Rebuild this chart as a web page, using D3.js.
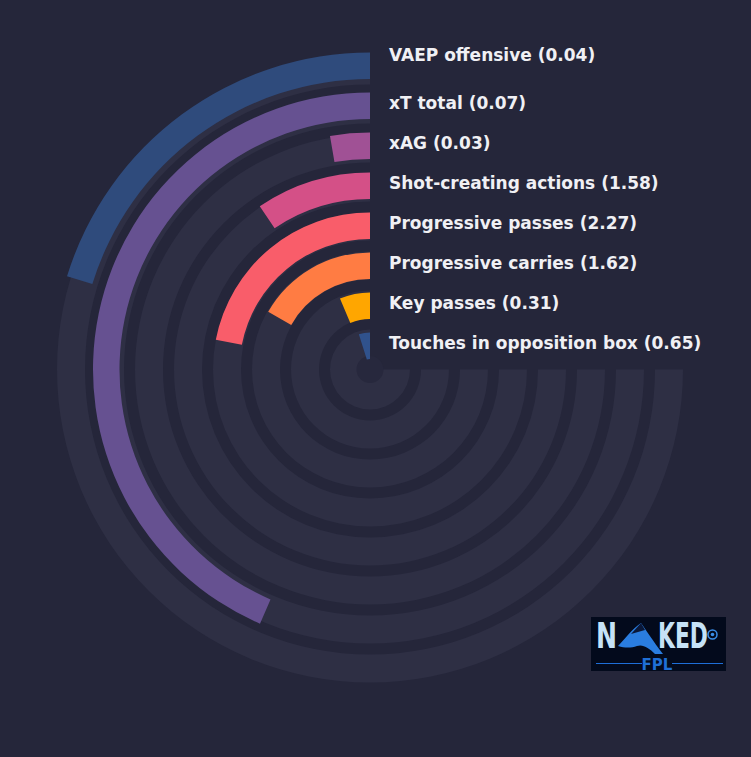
<!DOCTYPE html>
<html lang="en">
<head>
  <meta charset="UTF-8">
  <title>Radial bars</title>
  <script src="https://d3js.org/d3.v7.min.js"></script>
  <style>
    body { margin: 0; background: #25263a; }
    text { font-family: "DejaVu Sans", sans-serif; }
  </style>
</head>
<body>
  <div id="chart"></div>

  <script>

    // metrics, outer ring first
    const metrics = ['VAEP offensive', 'xT total', 'xAG', 'Shot-creating actions',
      'Progressive passes', 'Progressive carries', 'Key passes', 'Touches in opposition box'];
    const per90 = ['0.04', '0.07', '0.03', '1.58', '2.27', '1.62', '0.31', '0.65'];
    // percentile rank (bar length, 100 = three quarters of a circle)
    const percentiles = [27, 58, 3.6, 12.6, 29.3, 22.4, 8.5, 6.5];
    const colors = ['#2f4b7c', '#665191', '#a05195', '#d45087', '#f95d6a', '#ff7c43', '#ffa600', '#30528c'];

    const width = 751, height = 757;
    const cx = 370, cy = 369.5;

    const svg = d3.select('#chart').append('svg')
      .attr('width', width)
      .attr('height', height);

    svg.append('rect')
      .attr('width', width)
      .attr('height', height)
      .attr('fill', '#25263a');

    const g = svg.append('g')
      .attr('transform', `translate(${cx},${cy})`);

    const n = metrics.length;

    // ring index 0 = innermost
    const ring = i => n - 1 - i;
    const barR = d3.scaleLinear().domain([0, n - 1]).range([10.5, 290.5]);
    const trackR = d3.scaleLinear().domain([0, n - 1]).range([12, 285]);
    const barW = 26.5, trackW = 28;

    const angle = d3.scaleLinear().domain([0, 100]).range([0, -1.5 * Math.PI]);

    const arc = d3.arc();

    // background tracks
    g.selectAll('.track')
      .data(metrics)
      .enter()
      .append('path')
      .attr('class', 'track')
      .attr('d', (d, i) => arc({
        innerRadius: trackR(ring(i)),
        outerRadius: trackR(ring(i)) + trackW,
        startAngle: angle(0),
        endAngle: angle(100)
      }))
      .attr('fill', '#2e2f44');

    g.append('circle')
      .attr('r', 13.5)
      .attr('fill', '#27283d');

    // bars
    g.selectAll('.bar')
      .data(percentiles)
      .enter()
      .append('path')
      .attr('class', 'bar')
      .attr('d', (d, i) => arc({
        innerRadius: barR(ring(i)),
        outerRadius: barR(ring(i)) + barW,
        startAngle: angle(0),
        endAngle: angle(d)
      }))
      .attr('fill', (d, i) => colors[i]);

    // labels
    g.selectAll('.label')
      .data(metrics)
      .enter()
      .append('text')
      .attr('class', 'label')
      .attr('x', 19)
      .attr('y', (d, i) => -(barR(ring(i)) + barW / 2) + 3 - (i === 0 ? 8 : 0))
      .attr('fill', '#f0f0f4')
      .attr('font-size', '17px')
      .attr('font-weight', 'bold')
      .text((d, i) => `${d} (${per90[i]})`);

    // logo
    const logo = svg.append('g')
      .attr('transform', 'translate(591,617)');

    logo.append('rect')
      .attr('width', 135)
      .attr('height', 54)
      .attr('fill', '#030a1c');

    logo.append('text')
      .attr('x', 5)
      .attr('y', 30.5)
      .attr('fill', '#c6e2f7')
      .attr('font-size', '35px')
      .attr('font-weight', 'bold')
      .attr('textLength', 21)
      .attr('lengthAdjust', 'spacingAndGlyphs')
      .text('N');

    logo.append('text')
      .attr('x', 67)
      .attr('y', 30.5)
      .attr('fill', '#c6e2f7')
      .attr('font-size', '35px')
      .attr('font-weight', 'bold')
      .attr('textLength', 50)
      .attr('lengthAdjust', 'spacingAndGlyphs')
      .text('KED');

    logo.append('path')
      .attr('d', 'M27,29 C33,23 41,12 50,6 C55,13 62,24 72,37 L64,37 C58,31 52,27 46,29 C40,31 34,31 27,29 Z')
      .attr('fill', '#2a7de0');

    logo.append('path')
      .attr('d', 'M40,17 L50,6 L54,13 Z')
      .attr('fill', '#0b1838');

    logo.append('circle')
      .attr('cx', 121.5)
      .attr('cy', 17.5)
      .attr('r', 4.5)
      .attr('fill', 'none')
      .attr('stroke', '#3a8ee8')
      .attr('stroke-width', 1.5);

    logo.append('circle')
      .attr('cx', 121.5)
      .attr('cy', 17.5)
      .attr('r', 1.8)
      .attr('fill', '#3a8ee8');

    logo.append('text')
      .attr('x', 66)
      .attr('y', 53)
      .attr('text-anchor', 'middle')
      .attr('fill', '#1f6fd6')
      .attr('font-size', '15px')
      .attr('font-weight', 'bold')
      .text('FPL');

    logo.append('line')
      .attr('x1', 5).attr('x2', 51)
      .attr('y1', 46.5).attr('y2', 46.5)
      .attr('stroke', '#1e6ed8')
      .attr('stroke-width', 1);

    logo.append('line')
      .attr('x1', 81).attr('x2', 132)
      .attr('y1', 46.5).attr('y2', 46.5)
      .attr('stroke', '#1e6ed8')
      .attr('stroke-width', 1);

  </script>
</body>
</html>
